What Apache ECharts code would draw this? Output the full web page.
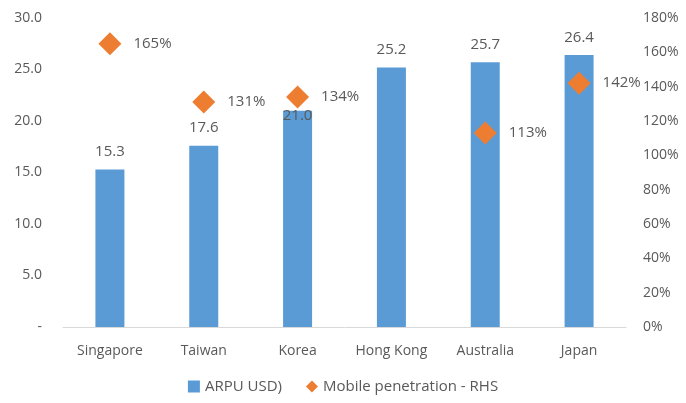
<!DOCTYPE html>
<html>
<head>
<meta charset="utf-8">
<script src="https://cdn.jsdelivr.net/npm/echarts@6/dist/echarts.min.js"></script>
<style>html,body{margin:0;padding:0;background:#fff}#c{width:686px;height:403px}</style>
</head>
<body>
<div id="c"></div>
<script>
const categories = ['Singapore', 'Taiwan', 'Korea', 'Hong Kong', 'Australia', 'Japan'];
const arpu = [15.3, 17.6, 21.0, 25.2, 25.7, 26.4];
const penetration = [165, 131, 134, null, 113, 142];
const leftTicks = [0, 5, 10, 15, 20, 25, 30];
const rightTicks = [0, 20, 40, 60, 80, 100, 120, 140, 160, 180];

const FONT = 'Open Sans';
const TXT = '#595959';
const chart = echarts.init(document.getElementById('c'));
chart.setOption({
  animation: false,
  textStyle: { fontFamily: FONT },
  grid: { left: 63, right: 60, top: 18, bottom: 76 },
  legend: {
    bottom: 4, left: 'center', itemGap: 24, itemWidth: 12, itemHeight: 12,
    textStyle: { color: TXT, fontSize: 15, fontFamily: FONT },
    data: [
      { name: 'ARPU USD)', icon: 'rect', itemStyle: { opacity: 1 } },
      { name: 'Mobile penetration - RHS', icon: 'diamond', itemStyle: { opacity: 1 } }
    ]
  },
  xAxis: {
    type: 'category', data: categories,
    axisLine: { lineStyle: { color: '#D9D9D9' } },
    axisTick: { show: false },
    axisLabel: { color: TXT, fontSize: 14, margin: 17 }
  },
  yAxis: [
    {
      type: 'value', min: leftTicks[0], max: leftTicks[leftTicks.length - 1], interval: 5,
      splitLine: { show: false }, axisLine: { show: false }, axisTick: { show: false },
      axisLabel: { color: TXT, fontSize: 14, margin: 21,
        formatter: v => v === 0 ? '-' : v.toFixed(1) }
    },
    {
      type: 'value', min: rightTicks[0], max: rightTicks[rightTicks.length - 1], interval: 20,
      splitLine: { show: false }, axisLine: { show: false }, axisTick: { show: false },
      axisLabel: { color: TXT, fontSize: 14, margin: 17, formatter: v => v + '%' }
    }
  ],
  series: [
    {
      name: 'ARPU USD)', type: 'bar', yAxisIndex: 0, barWidth: 29,
      itemStyle: { color: '#5B9BD5' },
      data: arpu.map((v, i) => categories[i] === 'Korea'
        ? { value: v, label: { offset: [0, 23] } } : v),
      label: { show: true, position: 'top', distance: 10, color: TXT, fontSize: 15,
        formatter: p => p.value.toFixed(1) },
      z: 2
    },
    {
      name: 'Mobile penetration - RHS', type: 'scatter', yAxisIndex: 1,
      symbol: 'diamond', symbolSize: 23,
      itemStyle: { color: '#ED7D31', opacity: 1 },
      data: penetration,
      label: { show: true, position: 'right', distance: 12, color: TXT, fontSize: 15,
        opacity: 1, formatter: p => p.value + '%' },
      z: 3
    }
  ]
});
</script>
</body>
</html>
